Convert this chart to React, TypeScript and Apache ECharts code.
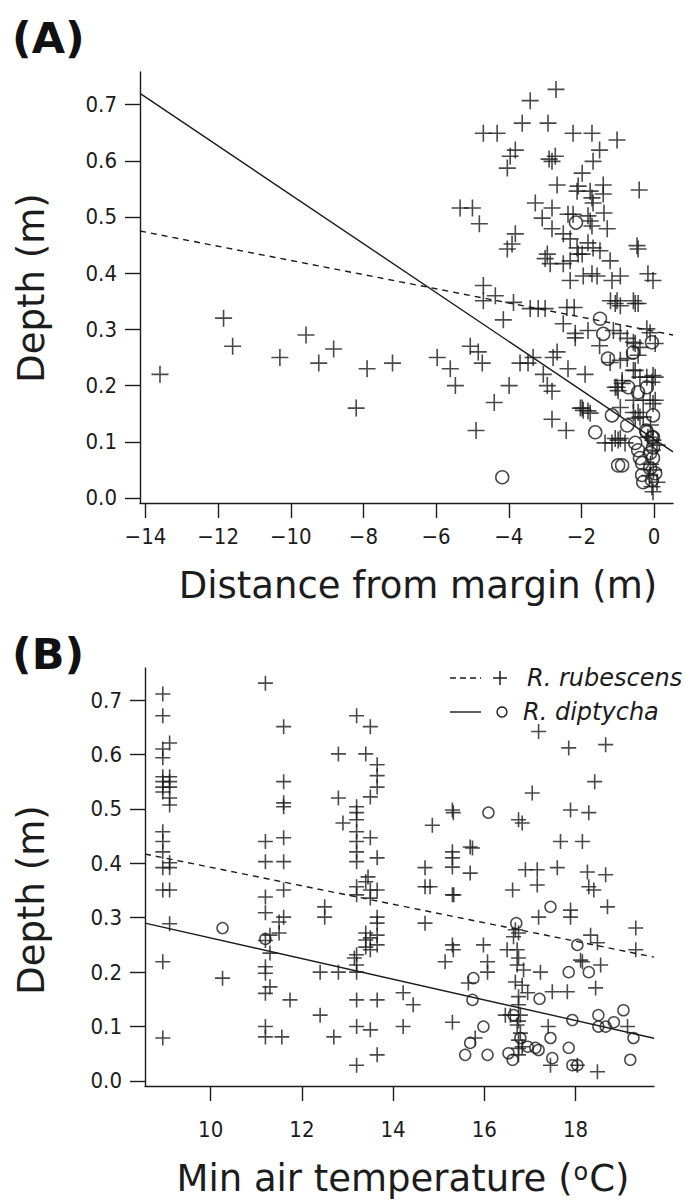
import React, { useEffect, useRef } from "react";
import * as echarts from "echarts";

// ---------- Panel A: depth vs distance from margin ----------
const aRubescens: number[][] = [
  [-13.6, 0.22], [-11.85, 0.32], [-11.6, 0.27], [-10.3, 0.25], [-9.58, 0.29], [-9.23, 0.24], [-8.82, 0.265], [-8.2, 0.16], [-7.9, 0.23], [-7.2, 0.24],
  [-5.97, 0.25], [-5.61, 0.23], [-5.47, 0.2], [-5.06, 0.27], [-4.84, 0.26], [-4.73, 0.24], [-4.4, 0.17], [-4.9, 0.12], [-3.99, 0.2], [-3.69, 0.24],
  [-3.47, 0.24], [-3.33, 0.25], [-3.05, 0.22], [-2.94, 0.2], [-2.81, 0.19], [-2.78, 0.25], [-2.67, 0.26], [-2.37, 0.23], [-1.9, 0.22], [-2.81, 0.14],
  [-2.42, 0.12], [-1.98, 0.16], [-1.82, 0.155],
  [-4.7, 0.378], [-4.7, 0.351], [-4.37, 0.36], [-4.15, 0.317], [-3.87, 0.348], [-3.41, 0.337], [-3.19, 0.337], [-3.0, 0.337], [-2.4, 0.339], [-2.2, 0.339],
  [-2.5, 0.31], [-2.17, 0.293], [-2.17, 0.285], [-1.82, 0.298], [-1.5, 0.271], [-1.21, 0.241],
  [-1.2, 0.351], [-1.02, 0.351], [-0.93, 0.342], [-0.57, 0.351], [-0.44, 0.346],
  [-1.12, 0.298], [-0.93, 0.293], [-0.74, 0.284], [-0.57, 0.277], [-0.39, 0.268], [-0.2, 0.301],
  [-1.02, 0.197], [-0.88, 0.209], [-0.57, 0.227], [-0.39, 0.215], [-0.2, 0.215], [-0.03, 0.218],
  [-0.93, 0.161], [-0.57, 0.152], [-0.39, 0.144], [-0.03, 0.168],
  [-1.35, 0.098], [-1.16, 0.098], [-0.99, 0.103], [-0.8, 0.098],
  [-2.7, 0.727], [-3.41, 0.707], [-3.63, 0.667], [-2.92, 0.667], [-4.7, 0.649], [-4.32, 0.649], [-2.23, 0.649], [-1.71, 0.649], [-1.02, 0.637],
  [-3.82, 0.619], [-3.96, 0.608], [-4.04, 0.587], [-2.72, 0.608], [-2.81, 0.599], [-2.89, 0.603], [-1.5, 0.619], [-1.68, 0.599], [-1.98, 0.578],
  [-2.67, 0.557], [-2.09, 0.555], [-2.12, 0.546], [-1.4, 0.557], [-1.4, 0.541], [-0.41, 0.548], [-1.76, 0.546], [-1.71, 0.534], [-1.68, 0.525],
  [-5.34, 0.516], [-5.0, 0.516], [-4.81, 0.488], [-3.27, 0.525], [-2.81, 0.516], [-3.08, 0.498], [-2.37, 0.505], [-2.23, 0.505], [-1.82, 0.502],
  [-1.76, 0.493], [-1.71, 0.484], [-1.38, 0.507], [-1.29, 0.479],
  [-2.81, 0.479], [-2.5, 0.47], [-2.31, 0.461], [-3.82, 0.47], [-3.91, 0.452], [-4.04, 0.443], [-2.94, 0.434], [-3.0, 0.426], [-2.86, 0.417],
  [-2.12, 0.445], [-1.82, 0.454], [-1.68, 0.445], [-1.49, 0.44], [-2.09, 0.434], [-1.98, 0.434], [-2.5, 0.417], [-2.31, 0.422], [-1.21, 0.422],
  [-0.47, 0.449], [-0.44, 0.443],
  [-2.31, 0.387], [-1.95, 0.395], [-1.71, 0.399], [-1.57, 0.395], [-1.16, 0.387], [-0.93, 0.395], [-0.17, 0.399], [-0.03, 0.387],
  [-2.03, 0.16], [-1.95, 0.156], [-1.76, 0.151], [-1.07, 0.106], [-0.93, 0.106],
  [-1.07, 0.346], [-0.52, 0.346], [-0.52, 0.275], [-0.11, 0.294], [0.03, 0.275], [-0.44, 0.254],
  [-0.93, 0.245], [-0.74, 0.248], [-0.52, 0.227], [0.03, 0.215], [-0.06, 0.206],
  [-1.07, 0.197], [-0.99, 0.191], [-0.88, 0.204], [-0.57, 0.174], [-0.3, 0.174], [-0.11, 0.174], [0.03, 0.174],
  [-0.44, 0.152], [-0.3, 0.144], [-0.52, 0.142],
  [-0.17, 0.108], [-0.03, 0.103], [0.08, 0.094],
  [-0.1, 0.13], [-0.05, 0.085], [-0.1, 0.06], [-0.02, 0.05], [-0.12, 0.04],
  [-0.06, 0.02], [-0.03, 0.011], [0.08, 0.028],
];

const aDiptycha: number[][] = [
  [-4.18, 0.037], [-1.62, 0.117], [-1.16, 0.147], [-0.74, 0.129], [-1.27, 0.248], [-1.49, 0.319], [-1.4, 0.292], [-0.99, 0.058], [-0.88, 0.058],
  [-0.58, 0.259], [-0.06, 0.277], [-0.71, 0.197], [-0.44, 0.188], [-0.2, 0.197], [-0.03, 0.147], [-0.2, 0.117], [-0.03, 0.108], [-2.15, 0.49],
  [-0.22, 0.12], [-0.52, 0.098], [-0.44, 0.085], [-0.39, 0.071], [-0.33, 0.062], [-0.06, 0.108], [-0.03, 0.09], [-0.11, 0.08], [-0.03, 0.071],
  [-0.33, 0.041], [-0.3, 0.028], [-0.06, 0.032], [0.03, 0.044], [-0.11, 0.053],
];

// ---------- Panel B: depth vs min air temperature ----------
const bRubescens: number[][] = [
  [8.95, 0.711], [8.95, 0.671], [9.1, 0.621], [8.95, 0.61], [8.95, 0.594], [8.95, 0.559], [9.1, 0.559], [8.95, 0.55], [9.1, 0.55], [8.95, 0.54],
  [9.1, 0.54], [8.95, 0.531], [9.1, 0.52], [9.1, 0.507], [8.95, 0.458], [8.95, 0.44], [8.95, 0.421], [9.1, 0.401], [8.95, 0.392], [9.1, 0.392],
  [8.95, 0.351], [9.1, 0.351], [9.1, 0.289], [8.95, 0.219], [8.95, 0.079],
  [10.26, 0.189],
  [11.2, 0.731], [11.6, 0.651], [11.6, 0.55], [11.6, 0.511], [11.6, 0.504], [11.2, 0.44], [11.6, 0.447], [11.2, 0.403], [11.6, 0.403], [11.2, 0.338],
  [11.6, 0.351], [11.2, 0.309], [11.6, 0.301], [11.5, 0.292], [11.5, 0.272], [11.2, 0.258], [11.3, 0.268], [11.3, 0.235], [11.2, 0.21], [11.2, 0.198],
  [11.3, 0.173], [11.2, 0.161], [11.74, 0.149], [11.2, 0.1], [11.2, 0.081], [11.56, 0.081],
  [12.8, 0.601], [12.8, 0.52], [12.9, 0.474], [12.5, 0.32], [12.5, 0.301], [12.4, 0.2], [12.8, 0.2], [12.4, 0.121], [12.7, 0.081],
  [13.2, 0.671], [13.5, 0.651], [13.4, 0.601], [13.65, 0.581], [13.65, 0.561], [13.65, 0.54], [13.5, 0.522], [13.2, 0.504], [13.2, 0.493], [13.2, 0.48],
  [13.2, 0.458], [13.5, 0.447], [13.2, 0.44], [13.65, 0.41], [13.2, 0.421], [13.2, 0.403], [13.45, 0.375], [13.4, 0.366], [13.2, 0.357], [13.5, 0.351],
  [13.65, 0.351], [13.2, 0.342], [13.5, 0.336], [13.65, 0.301], [13.65, 0.29], [13.4, 0.272], [13.5, 0.263], [13.4, 0.259], [13.65, 0.268], [13.65, 0.25],
  [13.4, 0.246], [13.5, 0.241], [13.2, 0.232], [13.15, 0.226], [13.2, 0.213], [13.2, 0.2], [13.2, 0.149], [13.65, 0.149], [13.2, 0.1], [13.5, 0.094],
  [13.65, 0.048], [13.2, 0.029],
  [14.22, 0.162], [14.44, 0.14], [14.22, 0.1], [14.7, 0.392], [14.7, 0.357], [14.7, 0.29], [14.81, 0.357], [14.86, 0.47],
  [15.3, 0.498], [15.32, 0.493], [15.3, 0.421], [15.3, 0.41], [15.3, 0.393], [15.69, 0.43], [15.69, 0.382], [15.3, 0.342], [15.33, 0.342], [15.3, 0.25],
  [15.32, 0.241], [15.14, 0.219], [15.98, 0.25], [16.07, 0.219], [16.07, 0.2], [15.65, 0.18], [15.3, 0.108], [15.8, 0.079],
  [17.19, 0.642], [17.85, 0.612], [18.66, 0.618], [18.42, 0.55], [17.05, 0.529], [17.89, 0.498], [18.29, 0.493], [16.75, 0.48], [16.83, 0.474],
  [17.67, 0.44], [18.15, 0.44], [15.74, 0.428], [16.9, 0.388], [17.16, 0.388], [17.6, 0.392], [17.16, 0.36], [18.26, 0.384], [18.66, 0.379],
  [18.29, 0.357], [18.4, 0.351], [16.62, 0.351], [18.7, 0.32], [17.89, 0.314], [17.89, 0.301], [17.19, 0.301], [16.68, 0.278], [16.75, 0.272],
  [16.64, 0.265], [19.32, 0.281], [19.32, 0.241], [18.33, 0.268], [18.48, 0.254], [16.5, 0.241], [16.72, 0.241], [16.75, 0.226], [16.72, 0.213],
  [16.86, 0.204], [17.23, 0.2], [18.15, 0.219], [18.55, 0.213], [18.11, 0.222], [16.68, 0.182], [16.83, 0.176], [17.49, 0.164], [17.82, 0.164],
  [18.44, 0.171], [16.95, 0.162], [16.57, 0.121], [16.79, 0.121], [16.72, 0.103], [16.79, 0.088], [19.14, 0.1], [17.4, 0.1], [16.83, 0.063],
  [16.75, 0.048], [17.45, 0.029], [18.04, 0.029], [18.48, 0.017], [16.46, 0.121],
  [16.75, 0.155], [16.75, 0.14], [16.75, 0.11], [16.75, 0.075], [16.75, 0.06],
];

const bDiptycha: number[][] = [
  [10.26, 0.281], [11.2, 0.261], [16.09, 0.493], [15.76, 0.189], [15.74, 0.149], [15.98, 0.1], [15.69, 0.07], [15.58, 0.048], [16.07, 0.048],
  [17.45, 0.32], [16.7, 0.29], [18.04, 0.25], [17.85, 0.2], [18.29, 0.2], [17.21, 0.151], [16.64, 0.121], [17.93, 0.112], [18.5, 0.121],
  [18.5, 0.1], [18.66, 0.1], [18.84, 0.108], [19.05, 0.13], [19.27, 0.079], [19.2, 0.039], [16.53, 0.051], [16.62, 0.039], [16.79, 0.079],
  [16.95, 0.063], [17.12, 0.061], [17.19, 0.057], [17.45, 0.079], [17.85, 0.061], [17.49, 0.042], [17.93, 0.029], [18.04, 0.029],
];

// Fitted regression lines: [intercept, slope]
const fitARubescens = [0.2966, -0.01261];
const fitADiptycha = [0.1046, -0.04349];
const fitBRubescens = [0.5623, -0.01697];
const fitBDiptycha = [0.4521, -0.01894];

// Axis ranges and tick labels
const aXRange = [-14.15, 0.52];
const bXRange = [8.56, 19.72];
const aYRange = [-0.0089, 0.758];
const bYRange = [-0.0092, 0.7588];
const aXTicks = [-14, -12, -10, -8, -6, -4, -2, 0];
const bXTicks = [10, 12, 14, 16, 18];
const yTicks = [0, 0.1, 0.2, 0.3, 0.4, 0.5, 0.6, 0.7];

const INK = "#1c1c1c";
const FONT = "'DejaVu Sans', Verdana, sans-serif";
const TICKFONT = "'DejaVu Sans Condensed', 'DejaVu Sans', sans-serif";
const PLUS = "path://M0,8H16M8,0V16";

function fitLine(fit: number[], range: number[]) {
  return range.map((x) => [x, fit[0] + fit[1] * x]);
}

export default function App() {
  const ref = useRef<HTMLDivElement>(null);

  useEffect(() => {
    document.body.style.margin = "0";
    if (!ref.current) return;
    const chart = echarts.init(ref.current, null, { renderer: "svg" });

    const xAxisCommon = (i: number, ticks: number[], range: number[], margin: number) => ({
      type: "value",
      gridIndex: i,
      min: range[0],
      max: range[1],
      axisLine: { show: true, onZero: false, lineStyle: { color: INK, width: 1.4 } },
      axisTick: { show: true, length: 15, customValues: ticks, lineStyle: { color: INK, width: 1.4 } },
      axisLabel: {
        customValues: ticks,
        margin,
        color: INK,
        fontSize: 22,
        fontFamily: TICKFONT,
        formatter: (v: number) => String(v).replace("-", "\u2212"),
      },
      splitLine: { show: false },
    });
    const yAxisCommon = (i: number, range: number[]) => ({
      type: "value",
      gridIndex: i,
      min: range[0],
      max: range[1],
      axisLine: { show: true, onZero: false, lineStyle: { color: INK, width: 1.4 } },
      axisTick: { show: true, length: 15, customValues: yTicks, lineStyle: { color: INK, width: 1.4 } },
      axisLabel: {
        customValues: yTicks,
        margin: 23,
        color: INK,
        fontSize: 22,
        fontFamily: TICKFONT,
        formatter: (v: number) => v.toFixed(1),
      },
      splitLine: { show: false },
    });

    const plus = (size: number) => ({
      type: "scatter",
      symbol: PLUS,
      symbolSize: size,
      itemStyle: { color: "none", borderColor: INK, borderWidth: 1.6 },
      silent: true,
      z: 3,
    });
    const circ = (size: number) => ({
      type: "scatter",
      symbol: "circle",
      symbolSize: size,
      itemStyle: { color: "rgba(0,0,0,0)", borderColor: INK, borderWidth: 1.5 },
      silent: true,
      z: 3,
    });
    const fit = (i: number, f: number[], range: number[], dashed: boolean) => ({
      type: "line",
      xAxisIndex: i,
      yAxisIndex: i,
      data: fitLine(f, range),
      showSymbol: false,
      symbol: "none",
      lineStyle: { color: INK, width: 1.4, type: dashed ? [6, 5] : "solid" },
      silent: true,
      z: 2,
    });

    const titleStyle = { fill: INK, fontSize: 37, fontFamily: FONT, align: "center", verticalAlign: "middle" };

    chart.setOption({
      animation: false,
      backgroundColor: "#fff",
      grid: [
        { left: 140, top: 72, width: 533, height: 431 },
        { left: 145, top: 668, width: 509, height: 418 },
      ],
      xAxis: [xAxisCommon(0, aXTicks, aXRange, 22), xAxisCommon(1, bXTicks, bXRange, 32)],
      yAxis: [yAxisCommon(0, aYRange), yAxisCommon(1, bYRange)],
      series: [
        fit(0, fitARubescens, aXRange, true),
        fit(0, fitADiptycha, aXRange, false),
        { ...plus(17), xAxisIndex: 0, yAxisIndex: 0, data: aRubescens },
        { ...circ(13), xAxisIndex: 0, yAxisIndex: 0, data: aDiptycha },
        fit(1, fitBRubescens, bXRange, true),
        fit(1, fitBDiptycha, bXRange, false),
        { ...plus(15), xAxisIndex: 1, yAxisIndex: 1, data: bRubescens },
        { ...circ(11), xAxisIndex: 1, yAxisIndex: 1, data: bDiptycha },
      ],
      graphic: [
        { type: "text", x: 12, y: 38, style: { text: "(A)", fill: "#111", fontSize: 43, fontWeight: "bold", fontFamily: FONT, verticalAlign: "middle" } },
        { type: "text", x: 12, y: 654, style: { text: "(B)", fill: "#111", fontSize: 43, fontWeight: "bold", fontFamily: FONT, verticalAlign: "middle" } },
        { type: "text", x: 31, y: 288, rotation: Math.PI / 2, style: { ...titleStyle, text: "Depth (m)" } },
        { type: "text", x: 31, y: 900, rotation: Math.PI / 2, style: { ...titleStyle, text: "Depth (m)" } },
        { type: "text", x: 418, y: 585, style: { ...titleStyle, text: "Distance from margin (m)" } },
        {
          type: "text",
          x: 403,
          y: 1178,
          style: {
            text: "{a|Min air temperature (}{s|o}{a|C)}",
            align: "center",
            verticalAlign: "middle",
            rich: {
              a: { fill: INK, fontSize: 37, fontFamily: FONT, verticalAlign: "bottom" },
              s: { fill: INK, fontSize: 24, fontFamily: FONT, verticalAlign: "top", padding: [0, 1, 12, 1] },
            },
          },
        },
        // legend
        { type: "line", shape: { x1: 450, y1: 678, x2: 481, y2: 678 }, style: { stroke: INK, lineWidth: 1.4, lineDash: [6, 4] } },
        { type: "line", shape: { x1: 493, y1: 678, x2: 507, y2: 678 }, style: { stroke: INK, lineWidth: 1.5 } },
        { type: "line", shape: { x1: 500, y1: 671, x2: 500, y2: 685 }, style: { stroke: INK, lineWidth: 1.5 } },
        { type: "text", x: 527, y: 678, style: { text: "R. rubescens", fill: INK, fontSize: 24, fontStyle: "italic", fontFamily: FONT, verticalAlign: "middle" } },
        { type: "line", shape: { x1: 450, y1: 712, x2: 481, y2: 712 }, style: { stroke: INK, lineWidth: 1.4 } },
        { type: "circle", shape: { cx: 502, cy: 712, r: 5 }, style: { fill: "none", stroke: INK, lineWidth: 1.4 } },
        { type: "text", x: 523, y: 712, style: { text: "R. diptycha", fill: INK, fontSize: 24, fontStyle: "italic", fontFamily: FONT, verticalAlign: "middle" } },
      ],
    });

    return () => chart.dispose();
  }, []);

  return <div ref={ref} style={{ width: 686, height: 1201 }} />;
}
